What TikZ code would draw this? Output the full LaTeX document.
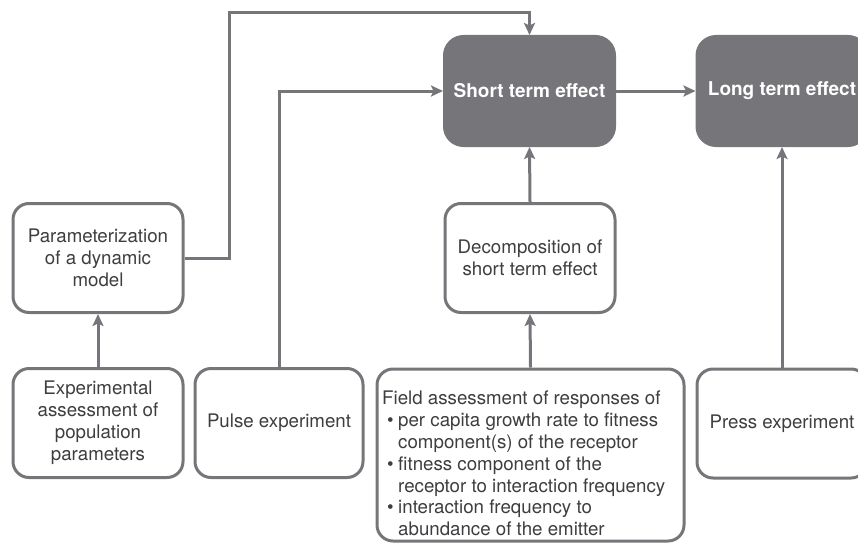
\documentclass[tikz,border=0pt]{standalone}
\usepackage{fontspec}
\setmainfont{TeX Gyre Heros}
\usetikzlibrary{arrows.meta}
\definecolor{lgray}{RGB}{118,118,122}
\definecolor{txtgray}{RGB}{62,62,64}
\newcommand{\bitem}{\hspace*{5pt}\makebox[11pt][l]{\textbullet}}
\newcommand{\citem}{\hspace*{16pt}}
\begin{document}
\begin{tikzpicture}[x=1pt,y=-1pt,
  wbox/.style={draw=lgray, line width=3pt, rounded corners=16pt, fill=white,
    align=center, text=txtgray, inner sep=0pt,
    font=\fontsize{18.7}{22}\selectfont},
  dbox/.style={draw=lgray, fill=lgray, line width=1pt, rounded corners=20pt,
    align=center, text=white, inner sep=0pt,
    font=\fontsize{19}{23}\selectfont\bfseries,
    minimum width=172pt, minimum height=111pt},
  arr/.style={draw=lgray, line width=3pt,
    -{Stealth[length=12pt,width=11pt,inset=2.5pt]}}
]
\path[use as bounding box] (0,0) rectangle (858,543);
\clip (0,0) rectangle (858,543);

% dark boxes
\node[dbox] (short) at (529.5,91) {Short term effect};
\node[dbox] (long) at (782,91) {Long term effect};

% white boxes
\node[wbox, minimum width=170pt, minimum height=109pt] (param) at (98,258)
  {Parameterization\\of a dynamic\\model};
\node[wbox, minimum width=170pt, minimum height=109pt] (decomp) at (530,258)
  {Decomposition of\\short term effect};
\node[wbox, minimum width=170pt, minimum height=109pt] (exp) at (98,423)
  {Experimental\\assessment of\\population\\parameters};
\node[wbox, minimum width=168pt, minimum height=109pt] (pulse) at (279,423)
  {Pulse experiment};
\node[wbox, minimum width=307pt, minimum height=172pt] (field) at (530.5,455) {};
\node[anchor=north west, inner sep=0pt, align=left, text=txtgray,
  font=\fontsize{18.7}{21.8}\selectfont] (fieldtxt) at (382,391)
  {Field assessment of responses of\\
   \bitem per capita growth rate to fitness\\
   \citem component(s) of the receptor\\
   \bitem fitness component of the\\
   \citem receptor to interaction frequency\\
   \bitem interaction frequency to\\
   \citem abundance of the emitter};
\node[wbox, minimum width=170pt, minimum height=109pt] (press) at (782,423.5)
  {Press experiment};

% connectors
\coordinate (c1) at (229,258);
\coordinate (c2) at (229,13);
\draw[arr] (param.east) -- (c1) -- (c2) -| (short.north);
\draw[arr] (pulse.north) |- (short.west);
\draw[arr] (short.east) -- (long.west);
\draw[arr] (decomp.north) -- (short.south);
\draw[arr] (field.north) -- (decomp.south);
\draw[arr] (exp.north) -- (param.south);
\draw[arr] (press.north) -- (long.south);
\end{tikzpicture}
\end{document}
